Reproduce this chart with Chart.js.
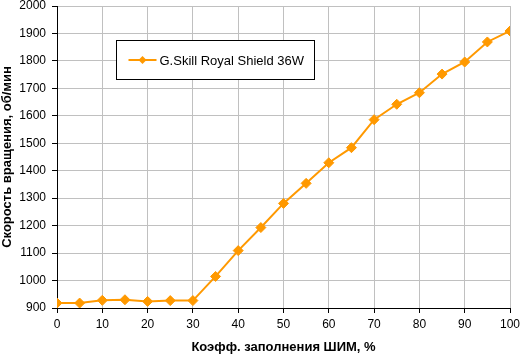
<!DOCTYPE html>
<html>
<head>
<meta charset="utf-8">
<script src="https://cdn.jsdelivr.net/npm/chart.js@4/dist/chart.umd.min.js"></script>
<style>
  html, body { margin: 0; padding: 0; background: #fff; }
  #wrap { width: 520px; height: 355px; position: relative; }
</style>
</head>
<body>
<div id="wrap"><canvas id="fanChart" width="520" height="355"></canvas></div>
<script>
// данные с графика
const seriesName = 'G.Skill Royal Shield 36W';
const pwm = [0, 5, 10, 15, 20, 25, 30, 35, 40, 45, 50, 55, 60, 65, 70, 75, 80, 85, 90, 95, 100];
const rpm = [918, 918, 928, 930, 924, 927, 927, 1015, 1109, 1193, 1281, 1354, 1429, 1484, 1586, 1642, 1684, 1752, 1796, 1869, 1909];

const orange = '#FF9900';
const font = 'Arial, "Liberation Sans", sans-serif';

// легенда в рамке внутри области графика
const boxLegend = {
  id: 'boxLegend',
  afterDraw(chart) {
    const ctx = chart.ctx;
    const ds = chart.data.datasets[0];
    const x = 116.5, y = 40.5, w = 198, h = 39;
    ctx.save();
    ctx.fillStyle = '#fff';
    ctx.fillRect(x, y, w, h);
    ctx.strokeStyle = '#000';
    ctx.lineWidth = 1;
    ctx.strokeRect(x, y, w, h);
    const cy = y + h / 2;
    ctx.strokeStyle = ds.borderColor;
    ctx.lineWidth = 2;
    ctx.beginPath();
    ctx.moveTo(x + 12, cy);
    ctx.lineTo(x + 40, cy);
    ctx.stroke();
    ctx.fillStyle = ds.borderColor;
    ctx.beginPath();
    ctx.moveTo(x + 26, cy - 4);
    ctx.lineTo(x + 30, cy);
    ctx.lineTo(x + 26, cy + 4);
    ctx.lineTo(x + 22, cy);
    ctx.closePath();
    ctx.fill();
    ctx.fillStyle = '#000';
    ctx.font = '13px ' + font;
    ctx.textBaseline = 'middle';
    ctx.fillText(ds.label, x + 43, cy + 1);
    ctx.restore();
  }
};

new Chart(document.getElementById('fanChart'), {
  type: 'line',
  data: {
    datasets: [{
      label: seriesName,
      data: pwm.map((p, i) => ({ x: p, y: rpm[i] })),
      borderColor: orange,
      backgroundColor: orange,
      borderWidth: 2,
      pointStyle: 'rectRot',
      pointRadius: 5,
      pointBorderWidth: 1,
      pointBackgroundColor: orange,
      pointBorderColor: orange,
      tension: 0
    }]
  },
  options: {
    responsive: false,
    animation: false,
    layout: { padding: { left: 0, right: 10, top: 5, bottom: 0 } },
    plugins: {
      legend: { display: false },
      tooltip: { enabled: false }
    },
    scales: {
      x: {
        type: 'linear',
        min: 0, max: 100,
        ticks: { stepSize: 10, color: '#000', font: { family: font, size: 12 }, padding: 4, maxRotation: 0, callback: v => String(v) },
        grid: { color: '#c0c0c0', tickColor: '#000', tickLength: 5 },
        border: { color: '#000' },
        title: { display: true, text: 'Коэфф. заполнения ШИМ, %', color: '#000', font: { family: font, size: 13, weight: 'bold' }, padding: { top: 0, bottom: 0 } },
        afterFit(scale) {
          scale.height = 47;
          scale.paddingLeft = 0;
          scale.paddingRight = 0;
        }
      },
      y: {
        min: 900, max: 2000,
        ticks: { stepSize: 100, color: '#000', font: { family: font, size: 12 }, padding: 6, callback: v => String(v) },
        grid: { color: '#c0c0c0', tickColor: '#000', tickLength: 5 },
        border: { color: '#000' },
        title: { display: true, text: 'Скорость вращения, об/мин', color: '#000', font: { family: font, size: 13, weight: 'bold' }, padding: { top: 0, bottom: 0 } },
        afterFit(scale) {
          scale.width = 57;
          scale.paddingTop = 0;
          scale.paddingBottom = 0;
        }
      }
    }
  },
  plugins: [boxLegend]
});
</script>
</body>
</html>
